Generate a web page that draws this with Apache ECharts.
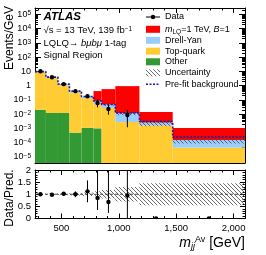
<!DOCTYPE html>
<html><head><meta charset="utf-8">
<script src="https://cdn.jsdelivr.net/npm/echarts@6/dist/echarts.min.js"></script>
<style>html,body{margin:0;padding:0;background:#fff}#c{width:266px;height:255px}</style>
</head><body><div id="c"></div>
<script>
// ---- data ----
const binEdges   = [270, 365, 470, 570, 675, 780, 850, 970, 1180, 1470, 2100];
const dataVals   = [10.3, 3.9, 1.27, 0.41, 0.18, 0.060, 0.023, 0.0087, 0, 0];
const dataErrUp  = [0.32, 0.19, 0.11, 0.06, 0.045, 0.05, 0.02, 0.011, 0, 0];
const dataErrDn  = [0.32, 0.19, 0.11, 0.06, 0.04, 0.03, 0.014, 0.0075, 0, 0];
const otherVals  = [0.02, 0.012, 0.012, 0.0005, 0.0011, 0.0010, 0, 0, 0, 0];
const topVals    = [8.8, 3.5, 1.07, 0.32, 0.13, 0.05, 0.027, 0.0028, 0.0016, 0.000045];
const dyVals     = [0.7, 0.43, 0.19, 0.09, 0.035, 0.032, 0.020, 0.0092, 0.001, 0.00011];
const signalVals = [0, 0, 0, 0, 0, 0.33, 0.52, 0.91, 0.0115, 0.00092];
const prefitVals = [9.6, 3.95, 1.28, 0.41, 0.17, 0.083, 0.047, 0.012, 0.003, 0.00025];
const bkgUnc     = [0.03, 0.03, 0.04, 0.05, 0.07, 0.12, 0.18, 0.30, 0.45, 0.45];
const ratioVals  = [1.00, 0.98, 1.02, 1.00, 1.12, 0.85, 0.68, 0.95, 0, 0];
const ratioErrUp = [0.03, 0.04, 0.07, 0.12, 0.45, 1.3, 1.4, 2.0, 0, 0];
const ratioErrDn = [0.03, 0.04, 0.07, 0.12, 0.45, 0.5, 0.45, 0.95, 0, 0];
const xMajorTicks = [500, 1000, 1500, 2000];
const xMinorTicks = [300, 400, 600, 700, 800, 900, 1100, 1200, 1300, 1400, 1600, 1700, 1800, 1900];
const yDecades = [1e-5, 1e-4, 1e-3, 1e-2, 1e-1, 1, 10, 100, 1e3, 1e4, 1e5];

const X_MIN = 270, X_MAX = 2100, Y_MIN = 3.7e-6, Y_MAX = 2.8e5;
const FONT = 'Liberation Sans';
const C_RED = '#ff0000', C_DY = '#99ccff', C_TOP = '#ffcc33', C_OTHER = '#339933', C_PRE = '#1a1aa6';

const yMinor = [];
for (let n = -6; n <= 5; n++) for (let k = 2; k <= 9; k++) { const v = k * Math.pow(10, n); if (v > Y_MIN && v < Y_MAX) yMinor.push(v); }

// hatch pattern
const pc = document.createElement('canvas'); pc.width = 4; pc.height = 4;
const g = pc.getContext('2d'); g.strokeStyle = '#444'; g.lineWidth = 0.8;
g.beginPath(); g.moveTo(-1, -1); g.lineTo(5, 5); g.moveTo(-1, 3); g.lineTo(1, 5); g.moveTo(3, -1); g.lineTo(5, 1); g.stroke();
const hatch = { image: pc, repeat: 'repeat' };

const nb = dataVals.length;
const layers = [[otherVals, C_OTHER], [topVals, C_TOP], [dyVals, C_DY], [signalVals, C_RED]];
const layerData = layers.map(() => []);
for (let i = 0; i < nb; i++) {
  let lo = 0;
  layers.forEach((L, j) => {
    const hi = lo + L[0][i];
    if (L[0][i] > 0 && hi > Y_MIN) layerData[j].push([binEdges[i], binEdges[i + 1], Math.max(lo, Y_MIN), Math.min(hi, Y_MAX)]);
    lo = hi;
  });
}
const totals = dataVals.map((_, i) => otherVals[i] + topVals[i] + dyVals[i]);
const bandMain = totals.map((t, i) => [binEdges[i], binEdges[i + 1], Math.max(t * (1 - bkgUnc[i]), Y_MIN), t * (1 + bkgUnc[i])]);
const bandRatio = bkgUnc.map((u, i) => [binEdges[i], binEdges[i + 1], 1 - u, Math.min(2, 1 + u)]);
const prefitLine = [];
prefitVals.forEach((v, i) => { prefitLine.push([binEdges[i], v], [binEdges[i + 1], v]); });
const centers = dataVals.map((_, i) => (binEdges[i] + binEdges[i + 1]) / 2);
const dataPts = [];
dataVals.forEach((v, i) => { if (v > 0) dataPts.push([centers[i], v, v - dataErrDn[i], v + dataErrUp[i]]); });
const ratioPts = ratioVals.map((v, i) => [centers[i], v, Math.max(0, v - ratioErrDn[i]), Math.min(2, v + ratioErrUp[i])]);

function rectRender(fill) {
  return function (params, api) {
    const a = api.coord([api.value(0), api.value(3)]);
    const b = api.coord([api.value(1), api.value(2)]);
    return { type: 'rect', shape: { x: a[0], y: a[1], width: b[0] - a[0], height: b[1] - a[1] }, style: { fill: fill } };
  };
}
function pointRender(params, api) {
  const p = api.coord([api.value(0), api.value(1)]);
  const lo = api.coord([api.value(0), api.value(2)]);
  const hi = api.coord([api.value(0), api.value(3)]);
  return { type: 'group', children: [
    { type: 'line', shape: { x1: p[0], y1: lo[1], x2: p[0], y2: hi[1] }, style: { stroke: '#000', lineWidth: 1 } },
    { type: 'circle', shape: { cx: p[0], cy: p[1], r: 2.2 }, style: { fill: '#000' } }
  ] };
}
function rectSeries(data, fill, xi, yi, z) {
  return { type: 'custom', xAxisIndex: xi, yAxisIndex: yi, z: z, silent: true, clip: true,
    dimensions: ['x0', 'x1', 'lo', 'hi'], encode: { x: [0, 1], y: [2, 3] }, renderItem: rectRender(fill), data: data };
}

const lineCol = '#000';
function xAx(grid, pos, ticks, len, showLine, labels) {
  return { type: 'value', gridIndex: grid, position: pos, min: X_MIN, max: X_MAX,
    axisLine: { show: showLine, lineStyle: { color: lineCol, width: 1 } },
    axisTick: { show: true, inside: true, length: len, customValues: ticks, lineStyle: { color: lineCol } },
    axisLabel: labels ? { show: true, customValues: xMajorTicks, fontSize: 9.5, fontFamily: FONT, color: '#000', margin: 5 } : { show: false },
    splitLine: { show: false } };
}
function yLog(pos, ticks, len, showLine, labels) {
  return { type: 'log', gridIndex: 0, position: pos, min: Y_MIN, max: Y_MAX, logBase: 10,
    axisLine: { show: showLine, lineStyle: { color: lineCol, width: 1 } },
    axisTick: { show: true, inside: true, length: len, customValues: ticks, lineStyle: { color: lineCol } },
    axisLabel: labels ? { show: true, customValues: yDecades, fontSize: 9, fontFamily: FONT, color: '#000', margin: 4,
      formatter: function (v) { const e = Math.round(Math.log10(v)); if (e === 0) return '1'; if (e === 1) return '10'; return '10{s|' + (e < 0 ? '\u2212' + (-e) : e) + '}'; },
      rich: { s: { fontSize: 6.5, fontFamily: FONT, verticalAlign: 'top', lineHeight: 8 } } } : { show: false },
    splitLine: { show: false } };
}
function yRatio(pos, labels) {
  return { type: 'value', gridIndex: 1, position: pos, min: 0, max: 2, interval: 0.5,
    axisLine: { show: true, lineStyle: { color: lineCol, width: 1 } },
    axisTick: { show: true, inside: true, length: 5, lineStyle: { color: lineCol } },
    minorTick: { show: true, splitNumber: 5, length: 2.5, lineStyle: { color: lineCol } },
    axisLabel: labels ? { show: true, fontSize: 9.5, fontFamily: FONT, color: '#000', margin: 4 } : { show: false },
    splitLine: { show: false }, minorSplitLine: { show: false } };
}

const txt = (x, y, text, extra) => ({ type: 'text', x: x, y: y, silent: true,
  style: Object.assign({ text: text, fontFamily: FONT, fontSize: 9, fill: '#000', verticalAlign: 'middle', align: 'left' }, extra || {}) });
const legX = 146, legW = 14, legTx = 165;
const legRows = [17, 29.3, 40.3, 51.2, 61.8, 72.8, 84.2];

const yTitle = txt(10, 6, 'Events/GeV', { fontSize: 12, align: 'right' }); yTitle.rotation = Math.PI / 2;
const rTitle = txt(10, 198, 'Data/Pred.', { fontSize: 12, align: 'center' }); rTitle.rotation = Math.PI / 2;

const option = {
  animation: false,
  backgroundColor: '#fff',
  grid: [
    { left: 35, right: 21, top: 8, height: 155 },
    { left: 35, right: 21, top: 170, height: 48.5 }
  ],
  xAxis: [
    xAx(0, 'bottom', xMajorTicks, 5, true, false),
    xAx(0, 'bottom', xMinorTicks, 2.5, false, false),
    xAx(0, 'top', xMajorTicks, 5, true, false),
    xAx(0, 'top', xMinorTicks, 2.5, false, false),
    xAx(1, 'bottom', xMajorTicks, 5, true, true),
    xAx(1, 'bottom', xMinorTicks, 2.5, false, false),
    xAx(1, 'top', xMajorTicks, 5, true, false),
    xAx(1, 'top', xMinorTicks, 2.5, false, false)
  ],
  yAxis: [
    yLog('left', yDecades, 6, true, true),
    yLog('left', yMinor, 3, false, false),
    yLog('right', yDecades, 6, true, false),
    yLog('right', yMinor, 3, false, false),
    yRatio('left', true),
    yRatio('right', false)
  ],
  series: [
    rectSeries(layerData[0], C_OTHER, 0, 0, 2),
    rectSeries(layerData[1], C_TOP, 0, 0, 2),
    rectSeries(layerData[2], C_DY, 0, 0, 2),
    rectSeries(layerData[3], C_RED, 0, 0, 2),
    rectSeries(bandMain, hatch, 0, 0, 3),
    { type: 'line', xAxisIndex: 0, yAxisIndex: 0, z: 4, silent: true, symbol: 'none', data: prefitLine,
      lineStyle: { color: C_PRE, width: 1.6, type: [2, 1.5] } },
    { type: 'custom', xAxisIndex: 0, yAxisIndex: 0, z: 5, silent: true, clip: true,
      encode: { x: [0], y: [1, 2, 3] }, renderItem: pointRender, data: dataPts },
    rectSeries(bandRatio, hatch, 4, 4, 2),
    { type: 'line', xAxisIndex: 4, yAxisIndex: 4, z: 3, silent: true, symbol: 'none', data: [[X_MIN, 1], [X_MAX, 1]],
      lineStyle: { color: '#222', width: 0.8, type: [3, 2] } },
    { type: 'custom', xAxisIndex: 4, yAxisIndex: 4, z: 5, silent: true, clip: true,
      encode: { x: [0], y: [1, 2, 3] }, renderItem: pointRender, data: ratioPts }
  ],
  graphic: [
    yTitle,
    rTitle,
    { type: 'text', x: 245, y: 243, silent: true, style: {
      text: '{m|m}{sub|jj}{sup|Av}{n| [GeV]}', align: 'right', verticalAlign: 'middle', fontFamily: FONT, fontSize: 14, fill: '#000',
      rich: { m: { fontSize: 14, fontStyle: 'italic', fontFamily: FONT },
              sub: { fontSize: 9, fontStyle: 'italic', fontFamily: FONT, verticalAlign: 'bottom', lineHeight: 16 },
              sup: { fontSize: 9, fontFamily: FONT, verticalAlign: 'top', lineHeight: 16 },
              n: { fontSize: 14, fontFamily: FONT } } } },
    txt(43.5, 16.5, 'ATLAS', { fontSize: 11.5, fontWeight: 'bold', fontStyle: 'italic' }),
    txt(43.5, 30.5, '\u221As = 13 TeV, 139 fb{s|\u22121}', { fontSize: 9.5, rich: { s: { fontSize: 6.5, fontFamily: FONT, verticalAlign: 'top', lineHeight: 10 } } }),
    txt(43.5, 43, 'LQLQ\u2192 {i|b\u03BCb\u03BC} 1-tag', { fontSize: 9.5, rich: { i: { fontStyle: 'italic', fontFamily: FONT, fontSize: 9.5 } } }),
    txt(43.5, 55, 'Signal Region', { fontSize: 9.5 }),
    // legend
    { type: 'line', silent: true, shape: { x1: legX, y1: legRows[0], x2: legX + legW, y2: legRows[0] }, style: { stroke: '#000', lineWidth: 1 } },
    { type: 'circle', silent: true, shape: { cx: legX + legW / 2, cy: legRows[0], r: 2.2 }, style: { fill: '#000' } },
    txt(legTx, legRows[0], 'Data'),
    { type: 'rect', silent: true, shape: { x: legX, y: legRows[1] - 3.5, width: legW, height: 7 }, style: { fill: C_RED } },
    txt(legTx, legRows[1], '{i|m}{sb|LQ}=1 TeV, {i|B}=1', { rich: { i: { fontStyle: 'italic', fontFamily: FONT, fontSize: 9 }, sb: { fontSize: 6.5, fontFamily: FONT, verticalAlign: 'bottom', lineHeight: 12 } } }),
    { type: 'rect', silent: true, shape: { x: legX, y: legRows[2] - 3.5, width: legW, height: 7 }, style: { fill: C_DY } },
    txt(legTx, legRows[2], 'Drell-Yan'),
    { type: 'rect', silent: true, shape: { x: legX, y: legRows[3] - 3.5, width: legW, height: 7 }, style: { fill: C_TOP } },
    txt(legTx, legRows[3], 'Top-quark'),
    { type: 'rect', silent: true, shape: { x: legX, y: legRows[4] - 3.5, width: legW, height: 7 }, style: { fill: C_OTHER } },
    txt(legTx, legRows[4], 'Other'),
    { type: 'rect', silent: true, shape: { x: legX, y: legRows[5] - 3.5, width: legW, height: 7 }, style: { fill: hatch } },
    txt(legTx, legRows[5], 'Uncertainty'),
    { type: 'line', silent: true, shape: { x1: legX, y1: legRows[6], x2: legX + legW, y2: legRows[6] }, style: { stroke: C_PRE, lineWidth: 1.6, lineDash: [2, 1.5] } },
    txt(legTx, legRows[6], 'Pre-fit background')
  ]
};
const chart = echarts.init(document.getElementById('c'), null, { renderer: 'canvas', width: 266, height: 255 });
chart.setOption(option);
</script></body></html>
